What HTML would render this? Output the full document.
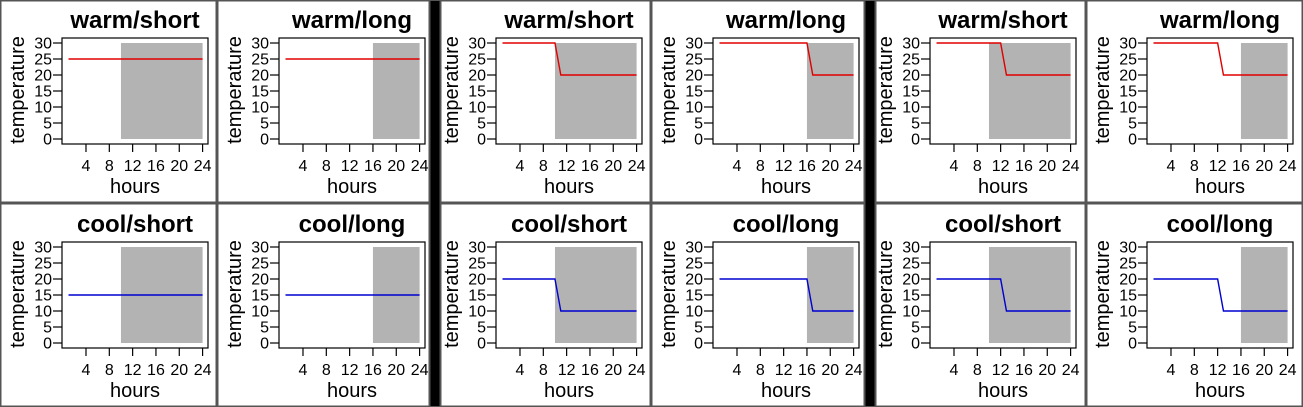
<!DOCTYPE html>
<html><head><meta charset="utf-8"><style>
body{margin:0;background:#fff;}
#root{position:relative;width:1303px;height:407px;overflow:hidden;font-family:"Liberation Sans",sans-serif;}
svg{position:absolute;left:0;top:0;}
</style></head><body>
<div id="root">
<svg id="svg" width="1303" height="407"></svg>
</div>
<script>
const titles = ["warm/short","warm/long","warm/short","warm/long","warm/short","warm/long","cool/short","cool/long","cool/short","cool/long","cool/short","cool/long"];
const darkStart = [10,16,10,16,10,16,10,16,10,16,10,16];
const seriesHours = [[1,24],[1,24],[1,10,11,24],[1,16,17,24],[1,12,13,24],[1,12,13,24],[1,24],[1,24],[1,10,11,24],[1,16,17,24],[1,12,13,24],[1,12,13,24]];
const seriesTemps = [[25,25],[25,25],[30,30,20,20],[30,30,20,20],[30,30,20,20],[30,30,20,20],[15,15],[15,15],[20,20,10,10],[20,20,10,10],[20,20,10,10],[20,20,10,10]];
const yTicks = [0,5,10,15,20,25,30];
const xTicks = [4,8,12,16,20,24];
const colLeft = [0,217,440,651,875,1086];
const colRight = [217,430,651,865,1086,1303];
const rowTop = [0,203];
const rowBottom = [203,407];
const NS = "http://www.w3.org/2000/svg";
const svg = document.getElementById('svg');
function mk(tag, attrs, parent, text){
  const e = document.createElementNS(NS, tag);
  for (const k in attrs) e.setAttribute(k, attrs[k]);
  if (text !== undefined) e.textContent = text;
  (parent||svg).appendChild(e);
  return e;
}
[[430,440],[865,875]].forEach(function(s){
  const r = mk('rect',{x:s[0],y:0,width:s[1]-s[0],height:407,fill:'#000'});
  
  
});
for (let p=0;p<12;p++){
  const row = Math.floor(p/6), col = p%6;
  const L = colLeft[col], T = rowTop[row];
  const g = mk('g',{});
  
  
  const border = mk('rect',{x:L+0.5,y:T+0.5,width:colRight[col]-L-1,height:rowBottom[row]-T-1,fill:'none',stroke:'#555','stroke-width':2},g);
  
  
  const bx = 62+217*col, by = T+38+row, bw = 146, bh = 106;
  const xs = h => bx + 6.5 + (h-1)*5.83;
  const ys = v => by + 101 - v*3.2;
  const shade = mk('rect',{x:xs(darkStart[p]),y:ys(30),width:xs(24)-xs(darkStart[p]),height:ys(0)-ys(30),fill:'#b3b3b3'},g);
  
  
  const pts = seriesHours[p].map((h,i)=>xs(h)+','+ys(seriesTemps[p][i])).join(' ');
  const line = mk('polyline',{points:pts,fill:'none',stroke:row===0?'#e00000':'#0000d0','stroke-width':1.4},g);
  
  
  const box = mk('rect',{x:bx,y:by,width:bw,height:bh,fill:'none',stroke:'#000','stroke-width':1.2},g);
  
  
  yTicks.forEach(v=>{
    mk('line',{x1:bx-9,x2:bx,y1:ys(v),y2:ys(v),stroke:'#000','stroke-width':1.2},g);
    const t = mk('text',{x:bx-10,y:ys(v)+5.5,'text-anchor':'end','font-size':16},g,String(v));
    
    
  });
  xTicks.forEach(h=>{
    mk('line',{x1:xs(h),x2:xs(h),y1:by+bh,y2:by+bh+8,stroke:'#000','stroke-width':1.2},g);
    const t = mk('text',{x:xs(h),y:by+bh+27,'text-anchor':'middle','font-size':16},g,String(h));
    
    
  });
  const tt = mk('text',{x:bx+bw/2,y:T+28+row,'text-anchor':'middle','font-size':24,'font-weight':'bold'},g,titles[p]);
  
  
  const xt = mk('text',{x:bx+bw/2,y:T+193+row,'text-anchor':'middle','font-size':20},g,'hours');
  
  
  const cy = by+bh/2-1, ax = bx-38;
  const yt = mk('text',{x:ax,y:cy,'text-anchor':'middle','font-size':20,transform:'rotate(-90 '+ax+' '+cy+')'},g,'temperature');
  
  
}
const outer = mk('rect',{x:0.5,y:0.5,width:1302,height:406,fill:'none',stroke:'#555','stroke-width':1});


</script>
</body></html>
